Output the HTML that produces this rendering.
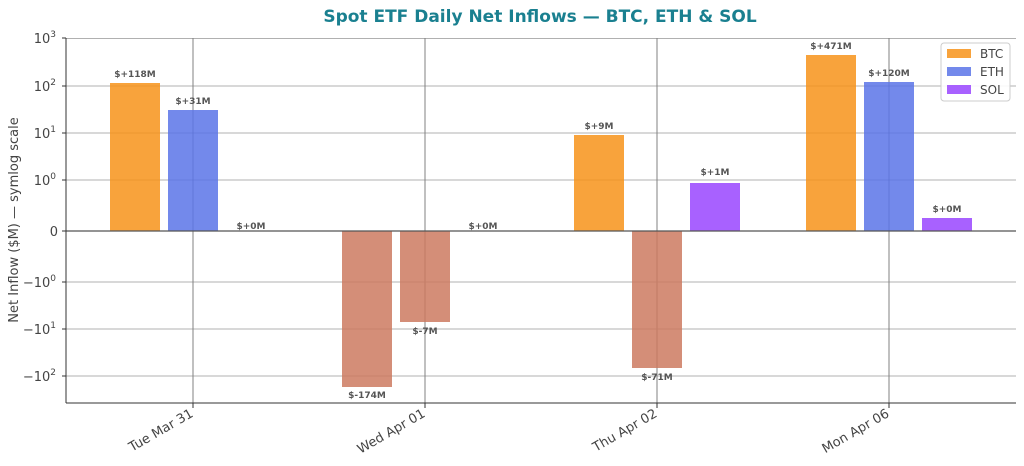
<!DOCTYPE html>
<html><head><meta charset="utf-8"><style>
body{margin:0;background:#fff;}
svg{display:block;font-family:"DejaVu Sans","Liberation Sans",sans-serif;}
</style></head><body>
<svg width="1024" height="466" viewBox="0 0 1024 466" xmlns="http://www.w3.org/2000/svg">
<rect width="1024" height="466" fill="#fff"/>
<text x="540" y="22" text-anchor="middle" font-size="17" font-weight="bold" fill="#1a8090">Spot ETF Daily Net Inflows — BTC, ETH &amp; SOL</text>
<!-- grid -->
<g stroke="#b0b0b0" stroke-width="1">
<line x1="66" y1="38.5" x2="1016" y2="38.5"/>
<line x1="66" y1="86" x2="1016" y2="86"/><line x1="66" y1="133" x2="1016" y2="133"/>
<line x1="66" y1="180" x2="1016" y2="180"/><line x1="66" y1="282" x2="1016" y2="282"/>
<line x1="66" y1="329" x2="1016" y2="329"/><line x1="66" y1="376" x2="1016" y2="376"/>
</g>
<g stroke="#808080" stroke-width="1">
<line x1="193" y1="38" x2="193" y2="403"/><line x1="425" y1="38" x2="425" y2="403"/>
<line x1="657" y1="38" x2="657" y2="403"/><line x1="889" y1="38" x2="889" y2="403"/>
</g>
<!-- bars -->
<g fill-opacity="0.85">
<rect x="110" y="83" width="50" height="148" fill="#f7931a"/>
<rect x="168" y="110" width="50" height="121" fill="#5a74e8"/>
<rect x="342" y="231" width="50" height="156" fill="#cc7a60"/>
<rect x="400" y="231" width="50" height="91" fill="#cc7a60"/>
<rect x="574" y="135" width="50" height="96" fill="#f7931a"/>
<rect x="632" y="231" width="50" height="137" fill="#cc7a60"/>
<rect x="690" y="183" width="50" height="48" fill="#9945ff"/>
<rect x="806" y="55" width="50" height="176" fill="#f7931a"/>
<rect x="864" y="82" width="50" height="149" fill="#5a74e8"/>
<rect x="922" y="218" width="50" height="13" fill="#9945ff"/>
</g>
<line x1="66" y1="231" x2="1016" y2="231" stroke="#555" stroke-width="1.2"/>
<!-- labels -->
<g font-size="9" font-weight="bold" fill="#555" text-anchor="middle">
<text x="135" y="77">$+118M</text><text x="193" y="104">$+31M</text><text x="251" y="229">$+0M</text>
<text x="367" y="398">$-174M</text><text x="425" y="334">$-7M</text><text x="483" y="229">$+0M</text>
<text x="599" y="129">$+9M</text><text x="657" y="380">$-71M</text><text x="715" y="175">$+1M</text>
<text x="831" y="49">$+471M</text><text x="889" y="76">$+120M</text><text x="947" y="212">$+0M</text>
</g>
<!-- axes -->
<g stroke="#333" stroke-width="1" fill="none">
<line x1="66" y1="38" x2="66" y2="403"/><line x1="66" y1="403" x2="1016" y2="403"/>
</g>
<g stroke="#333">
<line x1="62" y1="38" x2="66" y2="38"/><line x1="62" y1="86" x2="66" y2="86"/><line x1="62" y1="133" x2="66" y2="133"/>
<line x1="62" y1="180" x2="66" y2="180"/><line x1="62" y1="231" x2="66" y2="231"/><line x1="62" y1="282" x2="66" y2="282"/>
<line x1="62" y1="329" x2="66" y2="329"/><line x1="62" y1="376" x2="66" y2="376"/>
<line x1="193" y1="403" x2="193" y2="408"/><line x1="425" y1="403" x2="425" y2="408"/>
<line x1="657" y1="403" x2="657" y2="408"/><line x1="889" y1="403" x2="889" y2="408"/>
</g>
<g font-size="13" fill="#444" text-anchor="end">
<text x="56" y="43">10<tspan font-size="9" dy="-6">3</tspan></text>
<text x="56" y="91">10<tspan font-size="9" dy="-6">2</tspan></text>
<text x="56" y="138">10<tspan font-size="9" dy="-6">1</tspan></text>
<text x="56" y="185">10<tspan font-size="9" dy="-6">0</tspan></text>
<text x="58" y="236">0</text>
<text x="56" y="287">−10<tspan font-size="9" dy="-6">0</tspan></text>
<text x="56" y="334">−10<tspan font-size="9" dy="-6">1</tspan></text>
<text x="56" y="381">−10<tspan font-size="9" dy="-6">2</tspan></text>
</g>
<text transform="translate(18,220) rotate(-90)" text-anchor="middle" font-size="13" fill="#444">Net Inflow ($M) — symlog scale</text>
<g font-size="13" fill="#444" text-anchor="end">
<text transform="translate(194,416) rotate(-30)">Tue Mar 31</text>
<text transform="translate(426,416) rotate(-30)">Wed Apr 01</text>
<text transform="translate(658,416) rotate(-30)">Thu Apr 02</text>
<text transform="translate(890,416) rotate(-30)">Mon Apr 06</text>
</g>
<!-- legend -->
<rect x="941" y="43" width="69" height="58" rx="3" fill="#fff" fill-opacity="0.9" stroke="#ccc"/>
<rect x="947" y="49" width="24" height="9" fill="#f7931a" fill-opacity="0.85"/>
<rect x="947" y="67" width="24" height="9" fill="#5a74e8" fill-opacity="0.85"/>
<rect x="947" y="85" width="24" height="9" fill="#9945ff" fill-opacity="0.85"/>
<g font-size="12" fill="#444"><text x="980" y="58">BTC</text><text x="980" y="76">ETH</text><text x="980" y="94">SOL</text></g>
</svg>
</body></html>
